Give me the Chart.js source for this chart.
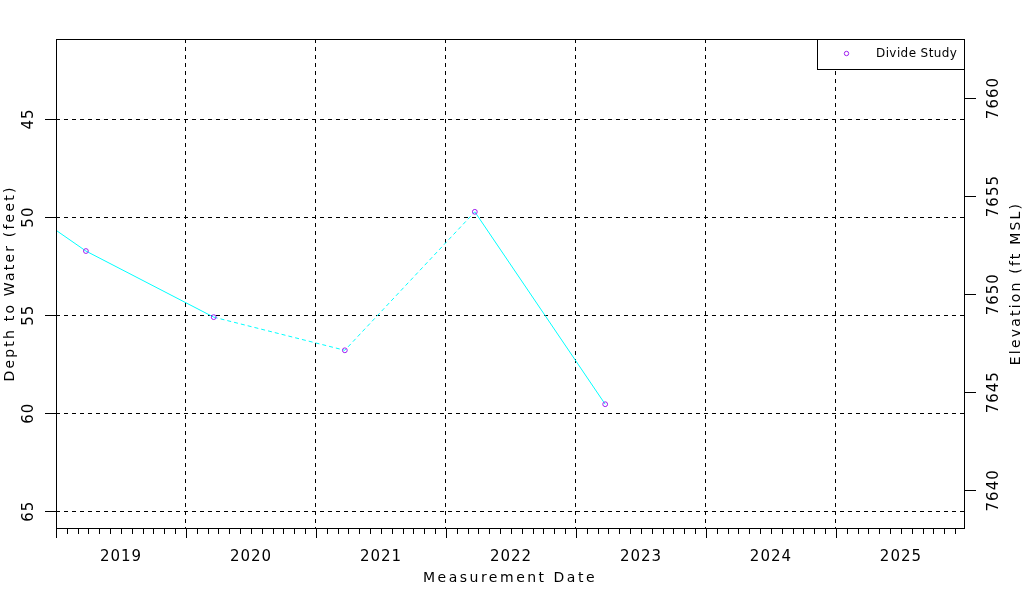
<!DOCTYPE html>
<html>
<head>
<meta charset="utf-8">
<title>Depth to Water</title>
<script src="https://cdn.jsdelivr.net/npm/chart.js@4/dist/chart.umd.min.js"></script>
<style>
    html, body { margin: 0; padding: 0; background: #fff; }
</style>
</head>
<body>
<canvas id="myChart" width="1024" height="600"></canvas>
<script>
// measurements (first one is before the plotted range, only its line shows)
var measureDates = ["2018-03-27", "2019-03-26", "2020-03-19", "2021-03-23", "2022-03-23", "2023-03-24"];
var depthToWater = [47.14, 51.73, 55.10, 56.79, 49.73, 59.54];
var seriesName = "Divide Study";

var yearLabels = ["2019", "2020", "2021", "2022", "2023", "2024", "2025"];
var depthTicks = [45, 50, 55, 60, 65];
var elevTicks = [7640, 7645, 7650, 7655, 7660];
var landSurface = 7703.93; // elevation = landSurface - depth

var depthMin = 40.92, depthMax = 65.85;
var xMin = 2019.0, xMax = 2025.985;
var dashedSegments = [2, 3];

var toDecYear = function (s) {
    var d = new Date(s + "T00:00:00Z");
    var y = d.getUTCFullYear();
    var start = Date.UTC(y, 0, 1), end = Date.UTC(y + 1, 0, 1);
    return y + (d.getTime() - start) / (end - start);
};

var points = [];
for (var i in measureDates) {
    points.push({ x: toDecYear(measureDates[i]), y: depthToWater[i] });
}

var firstYear = parseInt(yearLabels[0]);
var lastYear = parseInt(yearLabels[yearLabels.length - 1]) + 1;

var setFont = function (ctx, size, spacing) {
    ctx.font = size + 'px "DejaVu Sans"';
    ctx.letterSpacing = spacing + "px";
};

var rotText = function (ctx, text, x, y) {
    ctx.save();
    ctx.translate(x, y);
    ctx.rotate(-Math.PI / 2);
    ctx.fillText(text, 0, 0);
    ctx.restore();
};

var axisDecor = {
    id: "axisDecor",
    afterDraw: function (chart) {
        var ctx = chart.ctx;
        var a = chart.chartArea;
        var xs = chart.scales.x, ys = chart.scales.y, y2 = chart.scales.y2;
        ctx.save();
        ctx.strokeStyle = "#000";
        ctx.fillStyle = "#000";
        ctx.lineWidth = 1;

        // ticks under x axis, one per month
        ctx.beginPath();
        for (var yr = firstYear; yr <= lastYear; yr++) {
            for (var m = 0; m < 12; m++) {
                var v = yr + m / 12;
                if (v > xMax) break;
                var px = Math.round(xs.getPixelForValue(v)) + 0.5;
                ctx.moveTo(px, a.bottom);
                ctx.lineTo(px, a.bottom + (m === 0 ? 10 : 6));
            }
        }
        // left and right ticks
        depthTicks.forEach(function (t) {
            var py = Math.round(ys.getPixelForValue(t)) + 0.5;
            ctx.moveTo(a.left - 11, py);
            ctx.lineTo(a.left, py);
        });
        elevTicks.forEach(function (t) {
            var py = Math.round(y2.getPixelForValue(t)) + 0.5;
            ctx.moveTo(a.right, py);
            ctx.lineTo(a.right + 12, py);
        });
        ctx.stroke();

        // legend box
        var lx = 817, ly = a.top, lw = a.right - 817, lh = 30;
        ctx.fillStyle = "#fff";
        ctx.fillRect(lx, ly, lw, lh);
        ctx.strokeRect(lx + 0.5, ly + 0.5, lw, lh);
        ctx.strokeStyle = "#a020f0";
        ctx.beginPath();
        ctx.arc(846.5, ly + 14.5, 2.2, 0, Math.PI * 2);
        ctx.stroke();
        ctx.fillStyle = "#000";
        ctx.textAlign = "left";
        ctx.textBaseline = "middle";
        setFont(ctx, 12, 0.4);
        ctx.fillText(seriesName, 876, ly + 15);

        // plot frame
        ctx.strokeStyle = "#000";
        ctx.strokeRect(a.left + 0.5, a.top + 0.5, a.right - a.left, a.bottom - a.top);

        // labels
        ctx.textAlign = "center";
        ctx.textBaseline = "middle";
        setFont(ctx, 15, 1);
        yearLabels.forEach(function (lab) {
            ctx.fillText(lab, xs.getPixelForValue(parseInt(lab) + 0.5), 557);
        });
        setFont(ctx, 14, 2.5);
        ctx.fillText("Measurement Date", (a.left + a.right) / 2, 578);

        setFont(ctx, 15, 1);
        depthTicks.forEach(function (t) {
            rotText(ctx, String(t), 29, ys.getPixelForValue(t));
        });
        elevTicks.forEach(function (t) {
            rotText(ctx, String(t), 994, y2.getPixelForValue(t));
        });
        setFont(ctx, 14, 2.2);
        rotText(ctx, "Depth to Water (feet)", 10, (a.top + a.bottom) / 2);
        rotText(ctx, "Elevation (ft MSL)", 1016, (a.top + a.bottom) / 2);
        ctx.restore();
    },
};

var myChart = document.getElementById("myChart").getContext("2d");
var chart = new Chart(myChart, {
    type: "line",
    data: {
        datasets: [
            {
                label: seriesName,
                data: points,
                borderColor: "#00ffff",
                borderWidth: 1,
                pointRadius: 2.4,
                pointBorderWidth: 1,
                pointBorderColor: "#a020f0",
                pointBackgroundColor: "rgba(0,0,0,0)",
                tension: 0,
                segment: {
                    borderDash: function (c) {
                        return dashedSegments.indexOf(c.p0DataIndex) >= 0 ? [4, 3] : undefined;
                    },
                },
            },
        ],
    },
    options: {
        responsive: false,
        animation: false,
        layout: { padding: { top: 39, left: 0, right: 0, bottom: 0 } },
        plugins: { legend: { display: false }, tooltip: { enabled: false } },
        scales: {
            x: {
                type: "linear",
                min: xMin,
                max: xMax,
                afterBuildTicks: function (s) {
                    s.ticks = [];
                    for (var y = firstYear + 1; y < lastYear; y++) s.ticks.push({ value: y });
                },
                afterFit: function (s) { s.height = 72; },
                ticks: { display: false },
                grid: { color: "#000", lineWidth: 1, drawTicks: false },
                border: { display: false, dash: [4, 4] },
            },
            y: {
                position: "left",
                reverse: true,
                min: depthMin,
                max: depthMax,
                afterBuildTicks: function (s) {
                    s.ticks = depthTicks.map(function (v) { return { value: v }; });
                },
                afterFit: function (s) { s.width = 56; },
                ticks: { display: false },
                grid: { color: "#000", lineWidth: 1, drawTicks: false },
                border: { display: false, dash: [4, 4] },
            },
            y2: {
                position: "right",
                min: landSurface - depthMax,
                max: landSurface - depthMin,
                afterBuildTicks: function (s) {
                    s.ticks = elevTicks.map(function (v) { return { value: v }; });
                },
                afterFit: function (s) { s.width = 60; },
                ticks: { display: false },
                grid: { display: false, drawTicks: false },
                border: { display: false },
            },
        },
    },
    plugins: [axisDecor],
});
</script>
</body>
</html>
